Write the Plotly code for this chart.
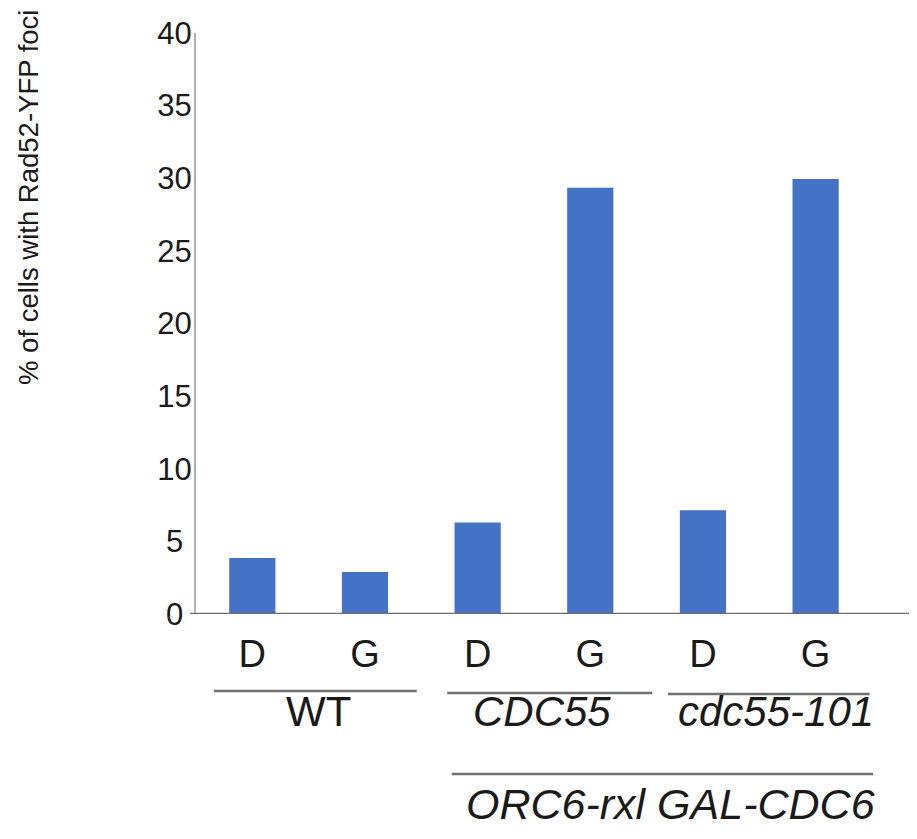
import plotly.graph_objects as go

# ---- data ----
conditions = ["D", "G", "D", "G", "D", "G"]
values = [3.85, 2.9, 6.3, 29.35, 7.15, 29.95]
y_ticks = [0, 5, 10, 15, 20, 25, 30, 35, 40]
y_tick_text = ["0\u00a0", "5\u00a0", "10", "15", "20", "25", "30", "35", "40"]
groups = ["WT", "<i>CDC55</i>", "<i>cdc55-101</i>"]
group_centers = [0.59, 2.57, 4.65]
group_lines = [(-0.34, 1.46), (1.73, 3.55), (3.69, 5.48)]
super_group = "<i>ORC6-rxl GAL-CDC6</i>"
super_center = 3.71
super_line = (1.77, 5.51)
y_title = "% of cells with Rad52-YFP foci"

# page body has an 8px margin, so the figure is offset by 8px
OFF = 8
W, H = 917 - OFF, 839 - OFF
ML, MR, MT = 196 - OFF, 0, 33 - OFF
MB = H - (614 - OFF)
plot_h = H - MT - MB
plot_w = W - ML - MR

def py(ref_pix):
    return (614 - ref_pix) / plot_h

def px(ref_pix):
    return (ref_pix - 196) / plot_w

xs = list(range(len(values)))

fig = go.Figure()
fig.add_trace(go.Bar(x=xs, y=values, width=0.41, marker=dict(color="#4472C4", line=dict(width=0)),
                     showlegend=False))

font_main = "Liberation Sans, Arial, sans-serif"

fig.update_layout(
    width=W, height=H,
    margin=dict(l=ML, r=MR, t=MT, b=MB, pad=0),
    paper_bgcolor="white", plot_bgcolor="white",
    font=dict(family=font_main, color="#1a1a1a"),
    xaxis=dict(range=[-0.5, 5.9], tickmode="array", tickvals=xs, ticktext=conditions,
               showgrid=False, zeroline=False, showline=False, ticks="",
               tickfont=dict(size=38, family=font_main, color="#1a1a1a"),
               ticklabelstandoff=14),
    yaxis=dict(range=[0, 40], tickmode="array", tickvals=y_ticks, ticktext=y_tick_text,
               showgrid=False, zeroline=False, showline=True, linecolor="#b0b0b0", linewidth=2,
               ticks="", tickfont=dict(size=31, family=font_main, color="#1a1a1a"),
               ticklabelstandoff=-4),
    bargap=0.59,
)

# baseline (x axis line)
fig.add_shape(type="line", xref="paper", yref="y", x0=px(190), x1=1, y0=0, y1=0,
              line=dict(color="#6e6e6e", width=2.5))

# group underlines
line_ys = [py(691), py(693), py(694)]
for (a, b), yy in zip(group_lines, line_ys):
    fig.add_shape(type="line", xref="x", yref="paper", x0=a, x1=b, y0=yy, y1=yy,
                  line=dict(color="#707070", width=2.5))
fig.add_shape(type="line", xref="x", yref="paper", x0=super_line[0], x1=super_line[1],
              y0=py(774), y1=py(774), line=dict(color="#707070", width=2.5))

for txt, cx in zip(groups, group_centers):
    fig.add_annotation(x=cx, y=py(712), xref="x", yref="paper", text=txt, showarrow=False,
                       xanchor="center", yanchor="middle",
                       font=dict(size=42, family=font_main, color="#1a1a1a"))
fig.add_annotation(x=super_center, y=py(804), xref="x", yref="paper", text=super_group,
                   showarrow=False, xanchor="center", yanchor="middle",
                   font=dict(size=43, family=font_main, color="#1a1a1a"))

fig.add_annotation(x=px(28), y=py(198), xref="paper", yref="paper", text=y_title,
                   textangle=-90, showarrow=False, xanchor="center", yanchor="middle",
                   font=dict(size=27.5, family=font_main, color="#1a1a1a"))

fig.write_html("out.html")
